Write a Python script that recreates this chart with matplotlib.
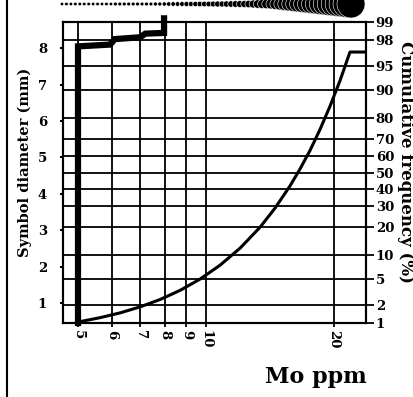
import matplotlib
matplotlib.use("Agg")
import matplotlib.pyplot as plt
from matplotlib.lines import Line2D
from statistics import NormalDist

# ---- data ----
mo_ticks = [5, 6, 7, 8, 9, 10, 20]
diam_ticks = [1, 2, 3, 4, 5, 6, 7, 8]
cum_ticks = [1, 2, 5, 10, 20, 30, 40, 50, 60, 70, 80, 90, 95, 98, 99]

# symbol-diameter function (Mo ppm -> mm)
sym_mo = [5.0, 5.0, 5.95, 6.1, 7.0, 7.2, 7.97, 7.97]
sym_diam = [0.45, 8.05, 8.1, 8.25, 8.3, 8.4, 8.42, 8.82]

# cumulative frequency curve (Mo ppm -> %)
cum_mo = [5.0, 5.63, 6.28, 7.0, 7.80, 8.69, 9.68, 10.79, 12.03, 13.41,
          14.54, 15.77, 16.65, 17.58, 18.55, 19.58, 20.68, 21.82, 23.8]
cum_pct = [1.04, 1.24, 1.50, 1.89, 2.48, 3.42, 4.96, 7.58, 12.1, 19.9,
           29.1, 41.8, 52.2, 63.4, 74.7, 84.7, 92.25, 96.87, 96.87]

# legend row of symbols (diameters, px)
dot_diam = [3.5, 3.5, 3.5, 3.5, 3.5, 3.5, 3.5, 3.5, 3.5, 3.5, 3.5, 3.5,
            3.8, 3.8, 3.8, 3.8, 3.8, 3.8, 3.8, 3.8, 3.8, 4.0, 4.0,
            4.2, 4.4, 4.5, 4.6, 4.8, 5.0, 5.0, 5.2, 5.4, 5.5, 5.6, 5.8,
            6.0, 6.0, 6.2, 6.4, 6.6, 6.8, 7.0,
            7.5, 8.0, 8.5, 9.0, 9.5, 10,
            11, 12, 13, 14, 15, 16, 17, 18, 19, 20, 21, 22, 23, 24, 25, 26, 27, 28]

nd = NormalDist()
def probit(p):
    return nd.inv_cdf(p / 100.0)

FONT = "DejaVu Serif"
W, H = 414, 397

fig = plt.figure(figsize=(W / 100, H / 100), dpi=100)
ax = fig.add_axes([63 / W, 1 - 323 / H, 303 / W, 301 / H])
ax.set_xscale("log")
ax.set_xlim(4.61, 23.8)
ax.set_ylim(0.45, 8.72)

# vertical grid
ax.set_xticks(mo_ticks)
ax.set_xticklabels([str(t) for t in mo_ticks], rotation=270,
                   fontfamily=FONT, fontweight="bold", fontsize=9.5)
ax.xaxis.set_minor_locator(matplotlib.ticker.NullLocator())
ax.tick_params(axis="x", direction="out", length=3, width=1.3, pad=2)
ax.grid(axis="x", color="black", lw=1.3)

ax.set_yticks(diam_ticks)
ax.set_yticklabels([str(t) for t in diam_ticks], fontfamily=FONT,
                   fontweight="bold", fontsize=9.5)
ax.tick_params(axis="y", direction="out", length=2.5, width=1.5, pad=9)

for s in ax.spines.values():
    s.set_linewidth(1.5)

# thick symbol-diameter line
ax.plot(sym_mo, sym_diam, color="black", lw=4.5, solid_joinstyle="miter",
        clip_on=False, zorder=5)

# probability axis
axr = ax.twinx()
axr.set_ylim(probit(1), probit(99))
axr.set_yticks([probit(p) for p in cum_ticks])
axr.set_yticklabels([str(p) for p in cum_ticks], fontfamily=FONT,
                    fontweight="bold", fontsize=9.5)
axr.tick_params(axis="y", direction="out", length=6, width=1.3, pad=1)
axr.grid(axis="y", color="black", lw=1.3)
for s in axr.spines.values():
    s.set_linewidth(1.5)
axr.plot(cum_mo, [probit(p) for p in cum_pct], color="black", lw=2.2,
         zorder=5)

# axis labels
fig.text(25 / W, 1 - 162 / H, "Symbol diameter (mm)", rotation=90,
         ha="center", va="center", fontfamily=FONT, fontweight="bold",
         fontsize=10.5)
fig.text(406 / W, 1 - 162 / H, "Cumulative frequency (%)", rotation=270,
         ha="center", va="center", fontfamily=FONT, fontweight="bold",
         fontsize=12)
fig.text(316 / W, 1 - 383 / H, "Mo ppm", ha="center", va="baseline",
         fontfamily=FONT, fontweight="bold", fontsize=16)

# left border line
fig.add_artist(Line2D([7 / W, 7 / W], [0, 1], transform=fig.transFigure,
                      color="black", lw=1.5))

# top row of symbols
axd = fig.add_axes([62 / W, 1 - 8 / H, 289 / W, 8 / H])
axd.set_xlim(0, len(dot_diam) - 1)
axd.set_ylim(-1, 1)
axd.axis("off")
axd.scatter(range(len(dot_diam)), [0] * len(dot_diam),
            s=[(d * 0.72) ** 2 for d in dot_diam], color="black",
            edgecolors="white", linewidths=0.4, clip_on=False)

fig.savefig("out.png", dpi=100)
